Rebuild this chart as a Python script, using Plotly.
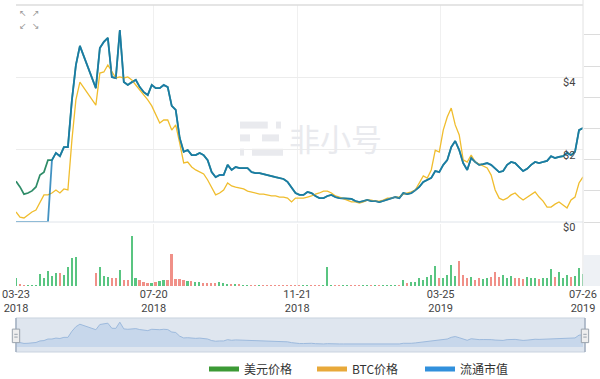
import numpy as np
import pandas as pd
import plotly.graph_objects as go

# ---------------- data ----------------
start_date = "2018-03-23"
end_date = "2019-07-26"

# USD price, sampled at equal steps over the date range (None = no data)
usd_price = [
    1.13, 0.97, 0.77, 0.80, 0.86, 0.97, 1.30, 1.38, 1.71, 1.71,
    1.91, 1.82, 2.07, 2.07, 3.37, 4.34, 4.87, None, None, None,
    3.70, 4.81, 4.98, 5.09, 4.01, 3.98, 5.31, 3.87, 3.79, 3.87,
    3.93, 3.73, 3.59, 3.51, 3.79, 3.70, 3.70, 3.79, 3.73, 3.21,
    3.10, 2.32, 1.94, 1.99, 1.85, 1.85, 1.91, 1.85, 1.71, 1.38,
    1.24, 1.30, 1.30, 1.58, 1.44, 1.52, 1.49, 1.49, 1.49, 1.38,
    1.35, 1.35, 1.33, 1.30, 1.27, 1.24, 1.22, 1.19, 1.11, 0.94,
    0.80, 0.75, 0.75, 0.83, 0.80, 0.72, 0.66, 0.66, 0.72, 0.75,
    0.69, 0.66, 0.66, 0.66, 0.64, 0.58, 0.55, 0.58, 0.61, 0.58,
    0.58, 0.55, 0.58, 0.61, 0.66, 0.69, 0.66, 0.80, 0.77, 0.80,
    0.88, 0.97, 1.11, 1.16, 1.22, 1.41, 1.38, 1.58, 1.71, 2.07,
    2.24, 1.99, 1.63, 1.44, 1.77, 1.66, 1.58, 1.60, 1.63, 1.58,
    1.49, 1.38, 1.41, 1.58, 1.66, 1.63, 1.52, 1.41, 1.47, 1.58,
    1.66, 1.63, 1.66, 1.69, 1.82, 1.77, 1.80, 1.82, 1.91, 1.85,
    1.94, 2.54, 2.60,
]

# BTC price in bits (1 bit = 1e-6 BTC)
btc_price_bits = [
    137, 118, 115, 126, 137, 144, 174, 200, 200, 207,
    218, 207, 222, 218, 402, 550, 616, None, None, None,
    531, 649, 653, 679, 653, 631, 635, 631, 635, 624,
    605, 587, 572, 550, 528, 495, 465, 476, 476, 439,
    458, 391, 318, 321, 303, 292, 284, 277, 255, 229,
    200, 207, 218, 244, 233, 229, 225, 222, 214, 211,
    207, 203, 203, 200, 196, 196, 192, 192, 188, 174,
    188, 188, 188, 192, 196, 203, 207, 214, 214, 207,
    196, 192, 185, 181, 174, 174, 170, 174, 181, 181,
    177, 177, 181, 188, 188, 192, 192, 203, 207, 211,
    218, 247, 270, 262, 292, 365, 358, 439, 487, 520,
    458, 421, 329, 321, 347, 321, 314, 306, 299, 273,
    218, 188, 181, 188, 200, 207, 192, 181, 192, 200,
    211, 192, 177, 155, 155, 166, 174, 163, 152, 181,
    192, 244, 266,
]

# trading volume, million USD
volume_musd = [
    0.8, 0.2, 0.1, 0.05, 0.05, 0.1, 1.2, 0.8, 1.5, 1.0,
    1.3, 1.3, 1.1, 1.9, 2.8, 2.9, None, None, None, None,
    1.3, 1.9, 1.0, 0.9, 0.8, 0.8, 1.6, 0.6, 0.6, 5.0,
    0.8, 0.6, 0.4, 0.3, 0.3, 0.4, 0.5, 0.6, 0.6, 3.2,
    0.7, 0.7, 0.6, 0.5, 0.5, 0.4, 0.4, 0.3, 0.3, 0.3,
    0.3, 0.4, 0.3, 0.2, 0.2, 0.2, 0.2, 0.15, 0.15, 0.15,
    0.15, 0.15, 0.15, 0.15, 0.15, 0.15, 0.15, 0.15, 0.1, 0.1,
    0.1, 0.1, 0.1, 0.1, 0.1, 0.1, 0.1, 0.1, 1.9, 0.1,
    0.05, 0.05, 0.05, 0.05, 0.05, 0.05, 0.05, 0.05, 0.05, 0.05,
    0.05, 0.05, 0.05, 0.1, 0.1, 0.1, 0.1, 0.6, 0.3, 0.4,
    0.4, 0.8, 0.6, 0.9, 1.1, 2.0, 0.8, 0.8, 1.1, 2.1,
    1.0, 2.5, 1.1, 0.8, 0.9, 0.6, 0.8, 0.7, 0.8, 0.9,
    1.4, 0.9, 1.1, 0.8, 1.0, 0.8, 0.8, 0.7, 0.9, 0.8,
    0.8, 0.7, 0.8, 0.8, 1.7, 0.9, 1.4, 0.8, 1.1, 0.9,
    1.0, 1.8, 1.2,
]

circulating_supply = 58_000_000
listing_date = "2018-04-22"

series_names = ["美元价格", "BTC价格", "流通市值"]
tick_dates = ["2018-03-23", "2018-07-20", "2018-11-21", "2019-03-25", "2019-07-26"]
tick_labels = ["03-23<br>2018", "07-20<br>2018", "11-21<br>2018", "03-25<br>2019", "07-26<br>2019"]
price_ticks = [0, 2, 4]
price_tick_labels = ["$0", "$2", "$4"]

# ---------------- derived ----------------
def arr(v):
    return np.array([np.nan if x is None else x for x in v], dtype=float)

price = arr(usd_price)
dates = pd.date_range(start_date, end_date, periods=len(price))
btc_price = arr(btc_price_bits) * 1e-6
btc_dates = pd.date_range(start_date, end_date, periods=len(btc_price))
volume = arr(volume_musd)
vol_dates = pd.date_range(start_date, end_date, periods=len(volume))
market_cap = np.where(dates < pd.Timestamp(listing_date), 0.0, price * circulating_supply)

GREEN = "#2f8c68"
YELLOW = "#f0bd2e"
BLUE = "#1478b4"
UP = "#3dbb6c"
DOWN = "#ee7d74"

prev = pd.Series(price).ffill().shift(1).to_numpy()
vol_colors = np.where(np.nan_to_num(price) >= np.nan_to_num(prev, nan=0), UP, DOWN)
step_ms = (dates[1] - dates[0]).total_seconds() * 1000

FONT = "Noto Sans CJK SC, Noto Sans, sans-serif"
TICKFONT = "Roboto, DejaVu Sans, sans-serif"

fig = go.Figure()
fig.add_trace(go.Scatter(x=dates, y=price, mode="lines", name=series_names[0],
                         line=dict(color=GREEN, width=1.7), connectgaps=True,
                         showlegend=False, xaxis="x", yaxis="y"))
fig.add_trace(go.Scatter(x=btc_dates, y=btc_price, mode="lines", name=series_names[1],
                         line=dict(color=YELLOW, width=1.3), connectgaps=True,
                         showlegend=False, xaxis="x", yaxis="y3"))
fig.add_trace(go.Scatter(x=dates, y=market_cap, mode="lines", name=series_names[2],
                         line=dict(color=BLUE, width=1.8), opacity=0.8, connectgaps=True,
                         showlegend=False, xaxis="x", yaxis="y4"))
fig.add_trace(go.Bar(x=vol_dates, y=volume, marker=dict(color=vol_colors, line_width=0),
                     opacity=0.85, width=step_ms * 0.4, showlegend=False,
                     xaxis="x2", yaxis="y2"))
fig.add_trace(go.Scatter(x=dates, y=price, mode="lines", fill="tozeroy",
                         line=dict(color="#9dbadd", width=1), fillcolor="rgba(178,202,232,0.55)",
                         connectgaps=True, showlegend=False, hoverinfo="skip",
                         xaxis="x5", yaxis="y5"))
# legend entries
for name, col in zip(series_names, ["#3c9a35", "#e8a93a", "#3190dc"]):
    fig.add_trace(go.Scatter(x=[None], y=[None], mode="lines", name=name,
                             line=dict(color=col, width=5), xaxis="x", yaxis="y"))

MAIN = [0.3746, 1.0]
VOL = [0.1902, 0.3689]
SLD = [0.0, 0.098]

fig.update_layout(
    width=600, height=379, autosize=False,
    margin=dict(l=16, r=17, t=5, b=27, pad=0),
    paper_bgcolor="white", plot_bgcolor="white",
    font=dict(family=FONT, size=11, color="#444"),
    bargap=0,
    xaxis=dict(domain=[0, 1], anchor="y", type="date", range=[dates[0], dates[-1]],
               tickvals=tick_dates, showticklabels=False, showgrid=True, automargin=False,
               gridcolor="#f0f0f0", ticks="", zeroline=False, showline=False),
    xaxis2=dict(domain=[0, 1], anchor="y2", type="date", matches="x", automargin=False,
                tickvals=tick_dates, ticktext=tick_labels, showgrid=True,
                gridcolor="#f0f0f0", ticks="", zeroline=False, showline=False,
                tickfont=dict(family=TICKFONT, size=11, color="#444")),
    xaxis5=dict(domain=[0, 1], anchor="y5", type="date", matches="x", automargin=False,
                showticklabels=False, showgrid=False, ticks="", zeroline=False),
    yaxis=dict(domain=MAIN, anchor="x", range=[0, 6], side="right", automargin=False,
               tickvals=price_ticks, showticklabels=False,
               showgrid=True, gridcolor="#ececec", zeroline=False, showline=False, ticks=""),
    yaxis3=dict(overlaying="y", anchor="x", range=[100e-6, 900e-6], visible=False,
                automargin=False),
    yaxis4=dict(overlaying="y", anchor="x", side="right", range=[0, 6 * circulating_supply],
                tick0=0, dtick=50_000_000, ticks="outside", ticklen=17, tickcolor="#dcdcdc",
                showticklabels=False, showgrid=False, zeroline=False, showline=False,
                automargin=False),
    yaxis2=dict(domain=VOL, anchor="x2", range=[0, 6.2], visible=False, automargin=False),
    yaxis5=dict(domain=SLD, anchor="x5", range=[-1.06, 6.2], visible=False, automargin=False),
    legend=dict(orientation="h", xref="container", yref="container",
                x=0.61, xanchor="center", y=0.0264, yanchor="middle",
                font=dict(family=FONT, size=12, color="#333"),
                entrywidth=63, bgcolor="rgba(0,0,0,0)"),
)

shapes = [
    # main panel borders
    dict(type="line", xref="paper", yref="y domain", x0=0, x1=1, y0=1, y1=1,
         line=dict(color="#dcdcdc", width=1.5)),
    dict(type="line", xref="paper", yref="y domain", x0=0, x1=1, y0=0, y1=0,
         line=dict(color="#dfe4ea", width=1)),
    dict(type="line", xref="paper", yref="paper", x0=1, x1=1, y0=VOL[0], y1=1.0144,
         line=dict(color="#e2e2e2", width=1)),
    dict(type="rect", xref="paper", yref="paper", x0=1.001, x1=1.035, y0=VOL[0], y1=0.2795,
         fillcolor="#eef1f5", line=dict(width=0)),
    # range slider background
    dict(type="rect", xref="paper", yref="paper", x0=0, x1=1.0035, y0=SLD[0], y1=SLD[1],
         fillcolor="#dfe6ef", line=dict(color="#c9d3df", width=1), layer="below"),
]
for hx in [0.0, 1.0035]:
    shapes.append(dict(type="line", xref="paper", yref="paper", x0=hx, x1=hx,
                       y0=SLD[0], y1=SLD[1], line=dict(color="#a5b1c2", width=1.5)))
    shapes.append(dict(type="rect", xref="paper", yref="paper", x0=hx - 0.0065, x1=hx + 0.0065,
                       y0=0.027, y1=0.066, fillcolor="#eeeeee",
                       line=dict(color="#9aa3ad", width=1)))
    shapes.append(dict(type="line", xref="paper", yref="paper", x0=hx - 0.003, x1=hx + 0.003,
                       y0=0.043, y1=0.043, line=dict(color="#9aa3ad", width=1)))
    shapes.append(dict(type="line", xref="paper", yref="paper", x0=hx - 0.003, x1=hx + 0.003,
                       y0=0.051, y1=0.051, line=dict(color="#9aa3ad", width=1)))
# watermark logo bars
for (xa, xb, yy) in [(0.395, 0.444, 0.654), (0.4586, 0.4674, 0.654),
                     (0.395, 0.4127, 0.617), (0.4339, 0.4638, 0.617),
                     (0.395, 0.4021, 0.576), (0.4162, 0.4709, 0.576)]:
    shapes.append(dict(type="line", xref="paper", yref="paper", x0=xa, x1=xb, y0=yy, y1=yy,
                       line=dict(color="#e9eaee", width=7), layer="below"))
fig.update_layout(shapes=shapes)

annotations = [
    dict(text="非小号", x=0.564, y=0.617, xref="paper", yref="paper", showarrow=False,
         font=dict(family=FONT, size=31, color="#e9eaee")),
]
# price axis labels, drawn just below their gridlines at the right edge
for val, lab in zip(price_ticks, price_tick_labels):
    annotations.append(dict(text=lab, x=1, y=val, xref="x domain", yref="y",
                            xanchor="right", yanchor="top", xshift=-6, yshift=3,
                            showarrow=False,
                            font=dict(family=TICKFONT, size=11, color="#444")))
for (ax, ay, sym) in [(0.002, 0.997, "↖"), (0.025, 0.997, "↗"),
                      (0.002, 0.959, "↙"), (0.025, 0.959, "↘")]:
    annotations.append(dict(text=sym, x=ax, y=ay, xref="paper", yref="paper", showarrow=False,
                            font=dict(family="DejaVu Sans", size=9, color="#999")))
fig.update_layout(annotations=annotations)

fig.write_html("out.html", config={"responsive": False, "displayModeBar": False},
               post_script="document.body.style.margin='0px';")
